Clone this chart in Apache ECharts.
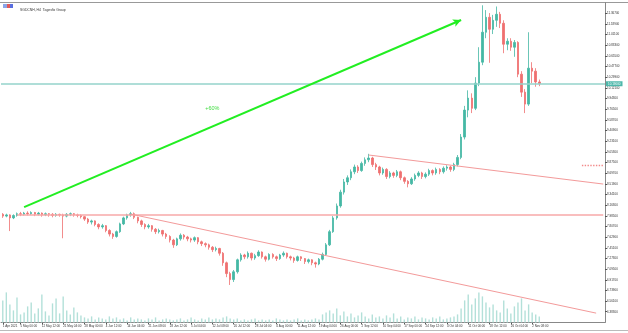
<!DOCTYPE html>
<html><head><meta charset="utf-8">
<script src="https://cdn.jsdelivr.net/npm/echarts@6/dist/echarts.min.js"></script>
<style>html,body{margin:0;padding:0;background:#fff}#c{width:628px;height:333px}</style>
</head><body><div id="c"></div>
<script>
const titleText = 'SGDCNH, H4  Tagesfix Group';
const tickLabels = ['1 Apr 2021','5 May 00:00','12 May 12:00','21 May 04:00','28 May 00:00','4 Jun 12:00','14 Jun 04:00','21 Jun 08:00','28 Jun 12:00','5 Jul 04:00','12 Jul 08:00','20 Jul 12:00','28 Jul 04:00','4 Aug 00:00','11 Aug 12:00','19 Aug 04:00','26 Aug 00:00','2 Sep 12:00','10 Sep 04:00','17 Sep 00:00','24 Sep 12:00','4 Oct 04:00','11 Oct 00:00','18 Oct 12:00','26 Oct 04:00','2 Nov 08:00'];
const tickBars = [0,5,11,17,23,29,35,41,47,53,59,65,71,77,83,89,95,101,107,113,119,125,131,137,143,149];
const slotCount = 170;
// [open, close, low, high]
const candles = [
[8.01,7.98,7.95,8.03],[7.98,8.00,7.96,8.02],[8.00,7.95,7.73,8.01],[7.95,7.99,7.93,8.01],[7.99,8.02,7.97,8.04],
[8.02,8.01,7.98,8.05],[8.01,8.03,7.99,8.05],[8.03,8.02,7.99,8.06],[8.02,8.04,8.00,8.06],[8.04,8.01,7.98,8.05],
[8.01,8.03,7.99,8.05],[8.03,8.00,7.97,8.04],[8.00,8.02,7.98,8.04],[8.02,8.01,7.97,8.03],[8.01,7.99,7.96,8.03],
[7.99,8.01,7.97,8.03],[8.01,8.00,7.97,8.02],[8.00,7.98,7.61,8.02],[7.98,8.01,7.96,8.03],[8.01,8.02,7.98,8.04],
[8.02,8.00,7.97,8.03],[8.00,7.99,7.96,8.02],[7.99,7.97,7.94,8.01],[7.97,7.93,7.90,7.98],[7.93,7.88,7.85,7.95],
[7.88,7.90,7.84,7.92],[7.90,7.84,7.81,7.91],[7.84,7.80,7.76,7.86],[7.80,7.82,7.77,7.85],[7.82,7.74,7.71,7.83],
[7.74,7.68,7.64,7.76],[7.68,7.64,7.60,7.70],[7.64,7.72,7.62,7.74],[7.72,7.85,7.70,7.87],[7.85,7.95,7.83,7.97],
[7.95,8.00,7.92,8.02],[8.00,8.02,7.97,8.05],[8.02,7.96,7.93,8.04],[7.96,7.90,7.86,7.97],[7.90,7.84,7.80,7.92],
[7.84,7.80,7.76,7.86],[7.80,7.82,7.77,7.85],[7.82,7.76,7.72,7.83],[7.76,7.72,7.68,7.78],[7.72,7.74,7.69,7.77],
[7.74,7.68,7.64,7.75],[7.68,7.64,7.60,7.70],[7.64,7.58,7.54,7.66],[7.58,7.50,7.45,7.60],[7.50,7.60,7.48,7.62],
[7.60,7.66,7.57,7.69],[7.66,7.63,7.59,7.68],[7.63,7.60,7.56,7.65],[7.60,7.58,7.54,7.62],[7.58,7.62,7.55,7.64],
[7.62,7.55,7.51,7.63],[7.55,7.52,7.48,7.57],[7.52,7.50,7.46,7.54],[7.50,7.46,7.42,7.52],[7.46,7.42,7.38,7.48],
[7.42,7.44,7.39,7.47],[7.44,7.36,7.32,7.45],[7.36,7.20,7.15,7.38],[7.20,7.02,6.96,7.22],[7.02,6.92,6.83,7.05],
[6.92,7.05,6.88,7.08],[7.05,7.25,7.02,7.27],[7.25,7.33,7.22,7.36],[7.33,7.30,7.26,7.35],[7.30,7.36,7.27,7.39],
[7.36,7.28,7.24,7.37],[7.28,7.32,7.25,7.35],[7.32,7.38,7.30,7.41],[7.38,7.30,7.27,7.39],[7.30,7.26,7.22,7.32],
[7.26,7.34,7.24,7.36],[7.34,7.30,7.27,7.36],[7.30,7.27,7.23,7.32],[7.27,7.33,7.25,7.35],[7.33,7.36,7.30,7.39],
[7.36,7.30,7.27,7.37],[7.30,7.28,7.24,7.32],[7.28,7.24,7.20,7.30],[7.24,7.30,7.22,7.32],[7.30,7.27,7.23,7.31],
[7.27,7.22,7.18,7.28],[7.22,7.25,7.19,7.27],[7.25,7.20,7.16,7.26],[7.20,7.18,7.12,7.22],[7.18,7.26,7.16,7.28],
[7.26,7.34,7.24,7.37],[7.34,7.50,7.32,7.53],[7.50,7.72,7.48,7.75],[7.72,7.95,7.70,7.98],[7.95,8.15,7.92,8.19],
[8.15,8.38,8.12,8.42],[8.38,8.55,8.34,8.60],[8.55,8.62,8.50,8.66],[8.62,8.72,8.58,8.76],[8.72,8.80,8.68,8.84],
[8.80,8.74,8.70,8.83],[8.74,8.86,8.72,8.89],[8.86,8.92,8.82,8.96],[8.92,8.95,8.88,9.02],[8.95,8.84,8.80,8.97],
[8.84,8.80,8.75,8.87],[8.80,8.70,8.66,8.82],[8.70,8.76,8.67,8.79],[8.76,8.64,8.60,8.78],[8.64,8.70,8.61,8.73],
[8.70,8.66,8.62,8.72],[8.66,8.72,8.63,8.75],[8.72,8.62,8.58,8.74],[8.62,8.56,8.52,8.64],[8.56,8.52,8.46,8.58],
[8.52,8.60,8.50,8.63],[8.60,8.66,8.57,8.69],[8.66,8.70,8.63,8.73],[8.70,8.64,8.60,8.72],[8.64,8.68,8.61,8.71],
[8.68,8.74,8.65,8.77],[8.74,8.70,8.66,8.76],[8.70,8.76,8.67,8.79],[8.76,8.72,8.68,8.78],[8.72,8.78,8.69,8.81],
[8.78,8.80,8.74,8.83],[8.80,8.76,8.72,8.82],[8.76,8.84,8.73,8.87],[8.84,8.96,8.81,9.00],[8.96,9.30,8.93,9.35],
[9.30,9.75,9.26,9.82],[9.75,9.95,9.63,10.08],[9.95,9.78,9.70,10.03],[9.78,10.20,9.75,10.30],[10.20,10.55,10.15,10.80],
[10.55,11.05,10.50,11.50],[11.05,11.30,10.95,11.42],[11.30,11.10,10.54,11.37],[11.10,11.25,11.02,11.34],[11.25,11.35,11.14,11.48],
[11.35,11.20,11.12,11.39],[11.20,10.85,10.70,11.25],[10.85,10.90,10.75,10.95],[10.90,10.80,10.74,10.95],[10.80,10.88,10.64,10.92],
[10.88,10.35,10.30,10.90],[10.35,10.05,9.97,10.40],[10.05,9.85,9.70,10.10],[9.85,10.45,9.82,11.05],[10.45,10.40,10.20,10.55],
[10.40,10.22,10.14,10.45],[10.22,10.19,10.15,10.26]
];
const volumes = [
22,30,18,12,25,8,10,16,20,9,14,28,11,7,19,24,9,26,12,8,15,10,7,
5,4,6,3,5,4,3,6,4,5,3,4,2,5,3,4,3,2,4,3,5,2,3,4,3,2,3,4,2,3,5,3,2,4,3,5,3,4,
3,5,6,4,3,4,2,3,2,3,4,2,3,2,3,2,4,3,2,3,2,3,4,2,3,2,3,4,3,
8,10,12,9,14,7,11,6,9,5,7,10,6,4,8,5,6,4,7,5,9,4,6,3,5,4,6,3,5,4,3,5,4,6,3,4,5,6,8,
14,22,28,18,24,30,26,20,15,18,12,10,22,14,9,16,20,24,12,18,10,8,6
];
const lastPrice = 10.19;
const supportLevel = 7.997;
const lowerChannel = [[36, 8.014], [167, 6.36]];
const upperChannel = [[103, 9.0], [169, 8.515]];
const arrowLine = [[6, 8.13], [129, 11.254]];
const gainLabel = {text: '+60%', at: [59, 9.785]};
const askMark = {from: [163, 8.832], to: [169, 8.832]};

const cats = [];
for (let i = 0; i < slotCount; i++) cats.push(String(i));
const labelMap = {};
tickBars.forEach((b, k) => { labelMap[b] = tickLabels[k]; });
const showTick = (idx) => labelMap[idx] !== undefined;

const FONT = 'Liberation Sans';
const chart = echarts.init(document.getElementById('c'), null, {renderer: 'canvas'});
const red = '#f39a9a';
const redLine = {color: red, width: 1, type: 'solid'};
const pairLine = (a, b, ls) => [
  {coord: a, lineStyle: ls, label: {show: false}},
  {coord: b, lineStyle: ls, label: {show: false}}
];
chart.setOption({
  animation: false,
  backgroundColor: '#ffffff',
  textStyle: {fontFamily: FONT},
  title: {text: titleText, left: 15, top: 3.5, textStyle: {fontSize: 3.4, color: '#333', fontWeight: 'normal', fontFamily: FONT}},
  grid: [
    {left: 1, right: 23, top: 2.6, bottom: 10.6, outerBoundsMode: 'none'},
    {left: 1, right: 23, top: 282.4, bottom: 10.6, outerBoundsMode: 'none'}
  ],
  xAxis: [
    {type: 'category', data: cats, gridIndex: 0, boundaryGap: true,
     axisLine: {show: true, lineStyle: {color: '#888', width: 1}},
     axisTick: {show: true, alignWithLabel: true, interval: showTick, length: 2, lineStyle: {color: '#555'}},
     axisLabel: {show: true, interval: showTick, formatter: (v, i) => labelMap[i] || '', fontSize: 3, color: '#333', align: 'left', margin: 2, fontFamily: FONT},
     splitLine: {show: false}},
    {type: 'category', data: cats, gridIndex: 1, boundaryGap: true, show: false}
  ],
  yAxis: [
    {type: 'value', gridIndex: 0, position: 'right', min: 6.205, max: 11.545, interval: 0.178, scale: true,
     axisLine: {show: true, lineStyle: {color: '#888', width: 1}},
     axisTick: {show: true, length: 2, lineStyle: {color: '#555'}},
     axisLabel: {show: true, showMinLabel: false, showMaxLabel: false, formatter: v => v.toFixed(5), fontSize: 3, color: '#333', margin: 2, fontFamily: FONT},
     splitLine: {show: false}},
    {type: 'value', gridIndex: 1, min: 0, max: 40, show: false, splitLine: {show: false}}
  ],
  series: [
    {type: 'candlestick', xAxisIndex: 0, yAxisIndex: 0, data: candles, barWidth: 2,
     itemStyle: {color: '#45b8a4', color0: '#ef7070', borderColor: '#45b8a4', borderColor0: '#ef7070', borderWidth: 0.8},
     markLine: {
       silent: true, symbol: ['none', 'none'], animation: false,
       lineStyle: {color: red, width: 1, type: 'solid'},
       label: {show: false},
       data: [
         {yAxis: lastPrice, lineStyle: {color: '#95d3cb', width: 1.6, type: 'solid'},
          label: {show: true, position: 'end', formatter: lastPrice.toFixed(5), backgroundColor: '#4fb8ab', color: '#fff', fontSize: 3, padding: [1, 2, 1, 2], distance: 1}},
         pairLine([4, supportLevel], [169, supportLevel], {color: '#f7a8a8', width: 1.6, type: 'solid'}),
         pairLine(lowerChannel[0], lowerChannel[1], redLine),
         pairLine(upperChannel[0], upperChannel[1], redLine),
         pairLine(askMark.from, askMark.to, {color: '#f28a8a', width: 1.4, type: 'dotted'}),
         [{coord: arrowLine[0], lineStyle: {color: '#22ee22', width: 2, type: 'solid'}, label: {show: false}},
          {coord: arrowLine[1], lineStyle: {color: '#22ee22', width: 2, type: 'solid'}, label: {show: false}, symbol: 'arrow', symbolSize: [6, 8], itemStyle: {color: '#22ee22'}}]
       ]
     },
     markPoint: {
       silent: true, animation: false,
       data: [{coord: gainLabel.at, symbol: 'circle', symbolSize: 1, itemStyle: {color: 'rgba(0,0,0,0)'},
               label: {show: true, formatter: gainLabel.text, color: '#44dd44', fontSize: 5.5, position: 'inside', fontFamily: FONT}}]
     }
    },
    {type: 'bar', xAxisIndex: 1, yAxisIndex: 1, data: volumes, barWidth: 1.4, itemStyle: {color: '#b3e0d9'}, silent: true}
  ],
  graphic: [
    {type: 'line', shape: {x1: 0, y1: 2.5, x2: 628, y2: 2.5}, style: {stroke: '#999', lineWidth: 1}},
    {type: 'line', shape: {x1: 0, y1: 330.5, x2: 628, y2: 330.5}, style: {stroke: '#bbb', lineWidth: 1}},
    {type: 'rect', shape: {x: 3, y: 4, width: 4, height: 4}, style: {fill: '#8aa6e8'}},
    {type: 'rect', shape: {x: 7, y: 4, width: 3, height: 4}, style: {fill: '#e05a5a'}},
    {type: 'rect', shape: {x: 10, y: 4, width: 3, height: 4}, style: {fill: '#5a6ee0'}}
  ]
});
</script></body></html>
